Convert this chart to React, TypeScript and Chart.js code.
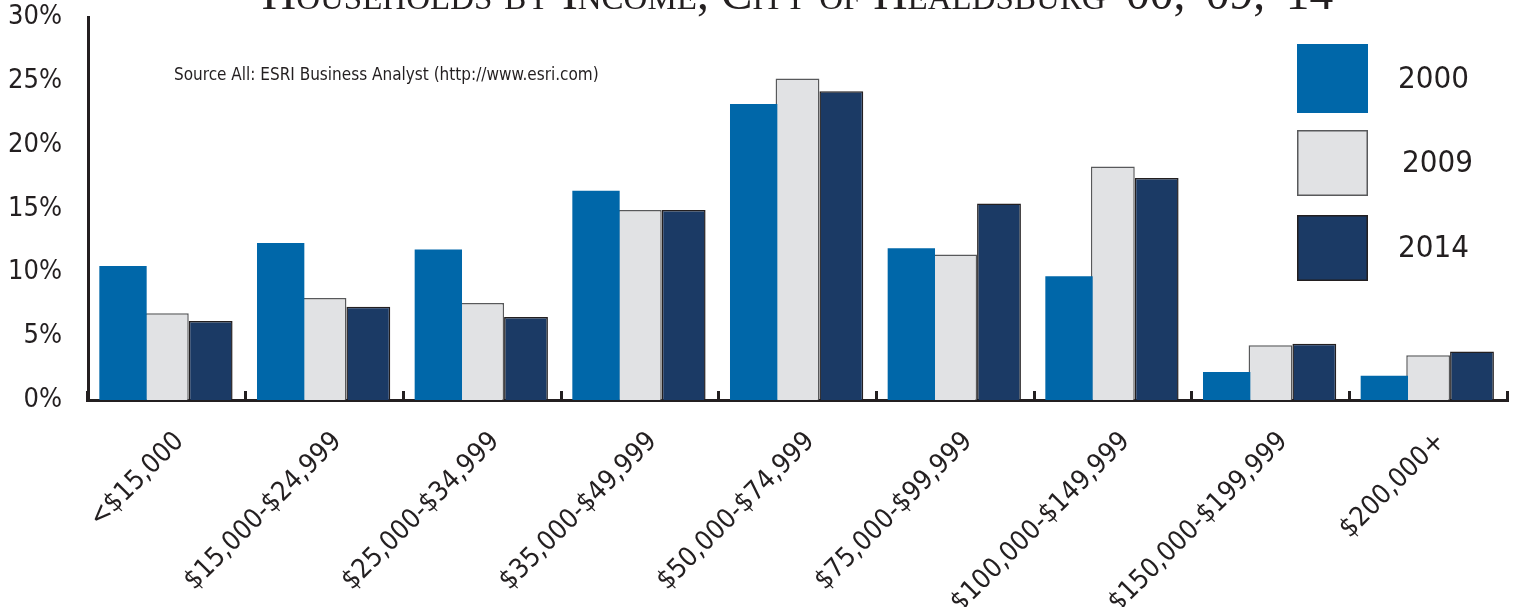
import React, { useEffect, useRef } from 'react';
import { Chart, registerables } from 'chart.js';

Chart.register(...registerables);

const categories = [
  '<$15,000',
  '$15,000-$24,999',
  '$25,000-$34,999',
  '$35,000-$49,999',
  '$50,000-$74,999',
  '$75,000-$99,999',
  '$100,000-$149,999',
  '$150,000-$199,999',
  '$200,000+',
];
const values2000 = [10.5, 12.3, 11.8, 16.4, 23.2, 11.9, 9.7, 2.2, 1.9];
const values2009 = [6.8, 8.0, 7.6, 14.9, 25.2, 11.4, 18.3, 4.3, 3.5];
const values2014 = [6.2, 7.3, 6.5, 14.9, 24.2, 15.4, 17.4, 4.4, 3.8];
const seriesLabels = ['2000', '2009', '2014'];
const titleText = "Households by Income, City of Healdsburg '00, '09, '14";
const sourceText = 'Source All: ESRI Business Analyst (http://www.esri.com)';

const INK = '#231f20';
const NARROW = "'Liberation Sans Narrow', 'DejaVu Sans Condensed', 'Open Sans', sans-serif";
const SERIF = "'Liberation Serif', 'DejaVu Serif', serif";
const SHIFT = 25; // canvas is shifted up so the title is clipped at the top

const legendPlugin = {
  id: 'sideLegend',
  afterDraw(chart: any) {
    const ctx = chart.ctx;
    const tops = [44, 130, 215];
    const heights = [69, 66, 66];
    ctx.save();
    chart.data.datasets.forEach((ds: any, i: number) => {
      const x = 1297;
      const y = tops[i] + SHIFT;
      ctx.fillStyle = ds.backgroundColor;
      ctx.fillRect(x, y, 71, heights[i]);
      if (ds.borderWidth) {
        ctx.strokeStyle = ds.borderColor;
        ctx.lineWidth = 1.5;
        ctx.strokeRect(x + 0.75, y + 0.75, 69.5, heights[i] - 1.5);
      }
      ctx.fillStyle = INK;
      ctx.font = `31px ${NARROW}`;
      ctx.textBaseline = 'middle';
      ctx.textAlign = 'left';
      ctx.fillText(ds.label, i === 1 ? 1402 : 1398, y + heights[i] / 2 + 1);
    });
    ctx.restore();
  },
};

const sourcePlugin = {
  id: 'sourceNote',
  afterDraw(chart: any) {
    const ctx = chart.ctx;
    ctx.save();
    ctx.fillStyle = INK;
    ctx.font = `17px ${NARROW}`;
    ctx.textBaseline = 'alphabetic';
    ctx.textAlign = 'left';
    ctx.fillText(sourceText, 174, 80 + SHIFT);
    ctx.restore();
  },
};

export default function App() {
  const ref = useRef<HTMLCanvasElement>(null);

  useEffect(() => {
    if (!ref.current) return;
    const chart = new Chart(ref.current, {
      type: 'bar',
      data: {
        labels: categories,
        datasets: [
          {
            label: seriesLabels[0],
            data: values2000,
            backgroundColor: '#0067a9',
            borderWidth: 0,
            barPercentage: 1.08,
          },
          {
            label: seriesLabels[1],
            data: values2009,
            backgroundColor: '#e1e2e4',
            borderColor: '#58595b',
            borderWidth: 1.5,
            borderSkipped: 'bottom',
          },
          {
            label: seriesLabels[2],
            data: values2014,
            backgroundColor: '#1b3a65',
            borderColor: INK,
            borderWidth: 1.5,
            borderSkipped: 'bottom',
          },
        ],
      },
      options: {
        responsive: false,
        animation: false,
        datasets: {
          bar: {
            categoryPercentage: 0.834,
            barPercentage: 1,
          },
        },
        layout: { padding: { left: 8, right: 13, top: 0, bottom: 0 } },
        plugins: {
          legend: { display: false },
          tooltip: { enabled: false },
          title: {
            display: true,
            text: titleText,
            fullSize: false,
            color: INK,
            font: { family: SERIF, size: 47.5, weight: 'small-caps' as any, lineHeight: 0.857 },
            padding: 0,
          },
        },
        scales: {
          x: {
            offset: true,
            grid: {
              offset: true,
              drawOnChartArea: false,
              drawTicks: true,
              tickLength: -9,
              color: INK,
              lineWidth: 3,
            },
            border: { display: true, color: INK, width: 3 },
            ticks: {
              color: INK,
              font: { family: NARROW, size: 27 },
              minRotation: 45,
              maxRotation: 45,
              autoSkip: false,
              padding: 35,
              labelOffset: 13,
            },
            afterFit: (scale: any) => {
              scale.height = 207;
            },
          },
          y: {
            min: 0,
            max: 30,
            grid: { display: false, drawTicks: false },
            border: { display: true, color: INK, width: 3 },
            ticks: {
              stepSize: 5,
              color: INK,
              font: { family: NARROW, size: 27 },
              padding: 26,
              callback: (v: any) => `${v}%`,
            },
            afterFit: (scale: any) => {
              scale.width = 80;
            },
          },
        },
      },
      plugins: [legendPlugin, sourcePlugin],
    });
    return () => chart.destroy();
  }, []);

  return (
    <div style={{ position: 'absolute', left: 0, top: 0, width: 1520, height: 607, overflow: 'hidden', background: '#fff' }}>
      <canvas
        ref={ref}
        width={1520}
        height={607 + SHIFT}
        style={{ position: 'absolute', left: 0, top: -SHIFT, width: 1520, height: 607 + SHIFT, display: 'block' }}
      />
    </div>
  );
}
